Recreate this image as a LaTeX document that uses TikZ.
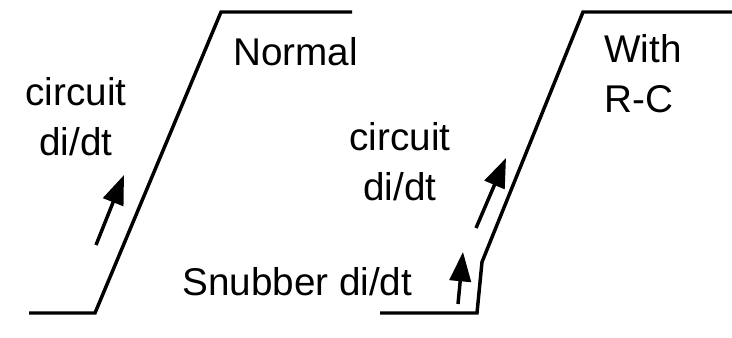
\documentclass[tikz,border=0pt]{standalone}
\usepackage{fontspec}
\setmainfont{Liberation Sans}
\usetikzlibrary{arrows.meta}
\tikzset{
    wave/.style={line width=2.6pt, line join=miter},
    rate/.style={line width=2.6pt, -{Triangle[length=22pt,width=16pt]}},
    lbl/.style={inner sep=0pt, font=\fontsize{29}{37.5}\selectfont},
}
\begin{document}
\begin{tikzpicture}[x=0.75pt, y=-0.75pt]
    \useasboundingbox (0,0) rectangle (732,337);
    % normal turn-on
    \draw[wave] (29,313) -- (95,313) -- (221,12) -- (352,12);
    \coordinate (n0) at (96,245);
    \coordinate (n1) at (124,175);
    \draw[rate] (n0) -- (n1);
    \node[lbl, align=center, anchor=base] (ncirc) at (76,155) {circuit\\di/dt};
    \node[lbl, anchor=base west] (normal) at (233,65) {Normal};
    % with R-C snubber
    \draw[wave] (380,313) -- (477,313) -- (482,262) -- (583,12) -- (732,12);
    \coordinate (s0) at (458,304);
    \coordinate (s1) at (463,252);
    \draw[rate] (s0) -- (s1);
    \coordinate (r0) at (476,228);
    \coordinate (r1) at (506,158);
    \draw[rate] (r0) -- (r1);
    \node[lbl, align=center, anchor=base] (rcirc) at (400,200) {circuit\\di/dt};
    \node[lbl, anchor=base west] (snub) at (182,295) {Snubber di/dt};
    \node[lbl, align=left, anchor=base west] (withrc) at (604,112) {With\\R-C};
\end{tikzpicture}
\end{document}
